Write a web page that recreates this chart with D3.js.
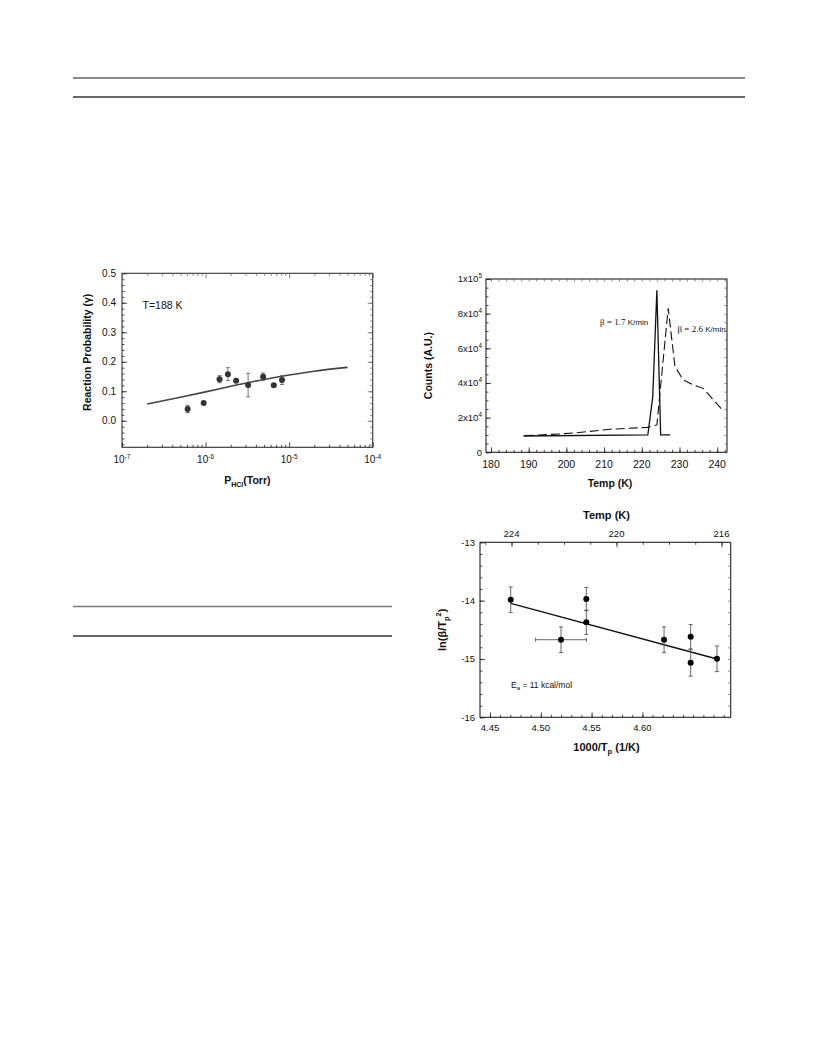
<!DOCTYPE html>
<html><head><meta charset="utf-8">
<script src="https://cdn.jsdelivr.net/npm/d3@7"></script>
<style>body{margin:0;background:#fff} svg{display:block} text{font-family:"Liberation Sans",Arial,sans-serif;fill:#111}</style>
</head><body><svg id="c" width="816" height="1056"></svg>
<script>
// ---------- Chart 1: reaction probability vs P_HCl ----------
const p1X   = [6.1e-7, 9.5e-7, 1.47e-6, 1.85e-6, 2.32e-6, 3.23e-6, 4.88e-6, 6.55e-6, 8.22e-6];
const p1Y   = [0.040, 0.060, 0.141, 0.158, 0.136, 0.121, 0.149, 0.120, 0.138];
const p1Err = [0.012, 0.004, 0.012, 0.022, 0.006, 0.040, 0.013, 0.004, 0.015];
const fitX  = [2e-7, 5e-7, 1e-6, 2e-6, 5e-6, 1e-5, 2e-5, 5e-5];
const fitY  = [0.057, 0.080, 0.098, 0.117, 0.140, 0.155, 0.168, 0.181];
const p1YTicks = [0.0, 0.1, 0.2, 0.3, 0.4, 0.5];
const p1YLabels = ["0.0","0.1","0.2","0.3","0.4","0.5"];
const p1XTicks = [1e-7, 1e-6, 1e-5, 1e-4];
const p1XExp = ["-7","-6","-5","-4"];

// ---------- Chart 2: TPD counts vs temperature ----------
const tSolid = [188.6, 221.6, 222.9, 224.0, 225.0, 227.5];
const cSolid = [9400, 10000, 32000, 93500, 10000, 10000];
const tDash  = [189.0, 198.3, 202.7, 211.6, 221.5, 224.0, 227.0, 228.8, 231.0, 233.7, 236.3, 239.0, 241.6];
const cDash  = [9600, 10600, 11300, 13300, 14400, 15800, 83100, 49400, 41700, 38800, 36900, 30200, 24000];
const p2XTicks = [180, 190, 200, 210, 220, 230, 240];
const p2YTicks = [0, 20000, 40000, 60000, 80000, 100000];
const p2YMant = ["0", "2x10", "4x10", "6x10", "8x10", "1x10"];
const p2YExp  = ["", "4", "4", "4", "4", "5"];

// ---------- Chart 3: ln(beta/Tp^2) vs 1000/Tp ----------
const p3X    = [4.4704, 4.5199, 4.5448, 4.5448, 4.6213, 4.6475, 4.6475, 4.6734];
const p3Y    = [-13.985, -14.67, -13.973, -14.372, -14.67, -14.62, -15.065, -14.997];
const p3YErr = [0.22, 0.22, 0.20, 0.21, 0.22, 0.21, 0.23, 0.22];
const p3XErr = [0, 0.025, 0, 0, 0, 0, 0, 0];
const lineX  = [4.4704, 4.6734];
const lineY  = [-14.046, -15.0];
const p3XTicks = [4.45, 4.50, 4.55, 4.60];
const p3XLabels = ["4.45","4.50","4.55","4.60"];
const p3YTicks = [-13, -14, -15, -16];
const p3TopTicks = [224, 220, 216];

const svg = d3.select("#c");
svg.append("rect").attr("width",816).attr("height",1056).attr("fill","#fff");

// page rules
svg.append("line").attr("x1",73).attr("x2",745).attr("y1",78).attr("y2",78).attr("stroke","#111").attr("stroke-width",1);
svg.append("line").attr("x1",73).attr("x2",745).attr("y1",97).attr("y2",97).attr("stroke","#333").attr("stroke-width",1.6);
svg.append("line").attr("x1",73).attr("x2",392).attr("y1",606.5).attr("y2",606.5).attr("stroke","#7a7a7a").attr("stroke-width",1.6);
svg.append("line").attr("x1",73).attr("x2",392).attr("y1",636).attr("y2",636).attr("stroke","#333").attr("stroke-width",1.6);

function ticks(g, scale, vals, orient, pos, len, col) {
  const ax = orient==="bottom" ? d3.axisBottom(scale) : orient==="top" ? d3.axisTop(scale)
           : orient==="left" ? d3.axisLeft(scale) : d3.axisRight(scale);
  ax.tickValues(vals).tickSize(-len).tickFormat("");
  const tr = (orient==="bottom"||orient==="top") ? `translate(0,${pos})` : `translate(${pos},0)`;
  const a = g.append("g").attr("transform", tr).call(ax);
  a.select(".domain").remove();
  a.selectAll("line").attr("stroke", col||"#222").attr("stroke-width", 0.8);
}
function box(g, b, col) {
  g.append("rect").attr("x",b.x0).attr("y",b.y0).attr("width",b.x1-b.x0).attr("height",b.y1-b.y0)
    .attr("fill","none").attr("stroke",col||"#111").attr("stroke-width",1.1);
}

// ===== Chart 1 =====
{
  const b = {x0:122, x1:372.7, y0:273.3, y1:447.3};
  const g = svg.append("g");
  const x = d3.scaleLog().domain([1e-7, 1e-4]).range([b.x0, b.x1]);
  const y = d3.scaleLinear().domain([-0.09, 0.5]).range([b.y1, b.y0]);
  box(g, b, "#333");
  const minorX = [];
  [1e-7,1e-6,1e-5].forEach(d => { for (let k=2;k<=9;k++) minorX.push(d*k); });
  const minorY = d3.range(-0.08, 0.5, 0.02).map(v=>+v.toFixed(2));
  ticks(g, x, p1XTicks, "bottom", b.y1, 5);
  ticks(g, x, minorX, "bottom", b.y1, 2.5);
  ticks(g, x, p1XTicks, "top", b.y0, 5, "#666");
  ticks(g, x, minorX, "top", b.y0, 2.5, "#666");
  ticks(g, y, p1YTicks, "left", b.x0, 5);
  ticks(g, y, minorY, "left", b.x0, 2.5);
  ticks(g, y, p1YTicks, "right", b.x1, 5, "#666");
  ticks(g, y, minorY, "right", b.x1, 2.5, "#666");

  p1YTicks.forEach((v,i) => g.append("text").attr("x", b.x0-6).attr("y", y(v)).attr("dy","0.35em")
    .attr("text-anchor","end").attr("font-size",10).text(p1YLabels[i]));
  p1XTicks.forEach((v,i) => {
    const t = g.append("text").attr("x", x(v)).attr("y", b.y1+16).attr("text-anchor","middle").attr("font-size",10);
    t.append("tspan").text("10");
    t.append("tspan").attr("font-size",6.5).attr("dy",-4).text(p1XExp[i]);
  });

  g.append("path").datum(fitX.map((d,i)=>[d, fitY[i]]))
    .attr("d", d3.line().x(d=>x(d[0])).y(d=>y(d[1])).curve(d3.curveMonotoneX))
    .attr("fill","none").attr("stroke","#444").attr("stroke-width",1.6);

  const pts = p1X.map((d,i)=>({x:d, y:p1Y[i], e:p1Err[i]}));
  const eb = g.append("g").attr("stroke","#666").attr("stroke-width",0.9);
  pts.forEach(p => {
    const cx = x(p.x);
    eb.append("line").attr("x1",cx).attr("x2",cx).attr("y1",y(p.y-p.e)).attr("y2",y(p.y+p.e));
    eb.append("line").attr("x1",cx-2).attr("x2",cx+2).attr("y1",y(p.y-p.e)).attr("y2",y(p.y-p.e));
    eb.append("line").attr("x1",cx-2).attr("x2",cx+2).attr("y1",y(p.y+p.e)).attr("y2",y(p.y+p.e));
  });
  g.selectAll("circle.p1").data(pts).join("circle").attr("cx",d=>x(d.x)).attr("cy",d=>y(d.y))
    .attr("r",3).attr("fill","#333");

  g.append("text").attr("x",142.5).attr("y",308.5).attr("font-size",10.5).text("T=188 K");
  g.append("text").attr("transform",`translate(${91},${(b.y0+b.y1)/2-8}) rotate(-90)`).attr("text-anchor","middle")
    .attr("font-size",10.5).attr("font-weight","bold").text("Reaction Probability (γ)");
  const xl = g.append("text").attr("x",(b.x0+b.x1)/2).attr("y",484).attr("text-anchor","middle")
    .attr("font-size",10.5).attr("font-weight","bold");
  xl.append("tspan").text("P");
  xl.append("tspan").attr("font-size",7).attr("dy",3).text("HCl");
  xl.append("tspan").attr("dy",-3).text("(Torr)");
}

// ===== Chart 2 =====
{
  const b = {x0:486, x1:727, y0:279, y1:452.3};
  const g = svg.append("g");
  const x = d3.scaleLinear().domain([178.67, 242.6]).range([b.x0, b.x1]);
  const y = d3.scaleLinear().domain([0, 100000]).range([b.y1, b.y0]);
  box(g, b, "#222");
  const minorX = d3.range(180, 242.6, 2);
  const minorY = d3.range(0, 100001, 5000);
  ticks(g, x, p2XTicks.filter(v=>v<=242), "bottom", b.y1, 5);
  ticks(g, x, minorX, "bottom", b.y1, 2.5);
  ticks(g, x, minorX, "top", b.y0, 2.5, "#666");
  ticks(g, y, p2YTicks, "left", b.x0, 5);
  ticks(g, y, minorY, "left", b.x0, 2.5);
  ticks(g, y, minorY, "right", b.x1, 2.5, "#666");

  p2YTicks.forEach((v,i) => {
    const t = g.append("text").attr("x", b.x0-4).attr("y", y(v)).attr("dy","0.35em")
      .attr("text-anchor","end").attr("font-size",9.5);
    t.append("tspan").text(p2YMant[i]);
    if (p2YExp[i]) t.append("tspan").attr("font-size",6.5).attr("dy",-4).text(p2YExp[i]);
  });
  p2XTicks.forEach(v => g.append("text").attr("x", x(v)).attr("y", b.y1+15.5).attr("text-anchor","middle")
    .attr("font-size",10.5).text(v));

  const line = d3.line().x(d=>x(d[0])).y(d=>y(d[1]));
  g.append("path").datum(tSolid.map((d,i)=>[d, cSolid[i]])).attr("d", line)
    .attr("fill","none").attr("stroke","#111").attr("stroke-width",1.3);
  g.append("path").datum(tDash.map((d,i)=>[d, cDash[i]])).attr("d", line)
    .attr("fill","none").attr("stroke","#111").attr("stroke-width",1.1).attr("stroke-dasharray","9,4");

  const l1 = g.append("text").attr("x",600).attr("y",324.5).attr("font-size",8);
  l1.append("tspan").attr("font-family","Liberation Serif, serif").attr("font-size",9).text("β = 1.7 ");
  l1.append("tspan").text("K/min");
  const l2 = g.append("text").attr("x",677.5).attr("y",332).attr("font-size",8);
  l2.append("tspan").attr("font-family","Liberation Serif, serif").attr("font-size",9).text("β = 2.6 ");
  l2.append("tspan").text("K/min");

  g.append("text").attr("transform",`translate(${432},${(b.y0+b.y1)/2}) rotate(-90)`).attr("text-anchor","middle")
    .attr("font-size",10.5).attr("font-weight","bold").text("Counts (A.U.)");
  g.append("text").attr("x",610).attr("y",486.5).attr("text-anchor","middle")
    .attr("font-size",10.5).attr("font-weight","bold").text("Temp (K)");
}

// ===== Chart 3 =====
{
  const b = {x0:480, x1:730.7, y0:542.3, y1:717.3};
  const g = svg.append("g");
  const x = d3.scaleLinear().domain([4.44016, 4.6869]).range([b.x0, b.x1]);
  const y = d3.scaleLinear().domain([-16, -13]).range([b.y1, b.y0]);
  const xt = d3.scaleLinear().domain([225.2, 215.65]).range([b.x0, b.x1]);
  box(g, b, "#222");
  const minorX = d3.range(4.45, 4.685, 0.01).map(v=>+v.toFixed(2));
  const minorY = d3.range(-16, -12.99, 0.2).map(v=>+v.toFixed(1));
  const minorT = d3.range(216, 225.1, 1);
  ticks(g, x, p3XTicks, "bottom", b.y1, 5);
  ticks(g, x, minorX, "bottom", b.y1, 2.5);
  ticks(g, xt, p3TopTicks, "top", b.y0, 5);
  ticks(g, xt, minorT, "top", b.y0, 2.5);
  ticks(g, y, p3YTicks, "left", b.x0, 5);
  ticks(g, y, minorY, "left", b.x0, 2.5);
  ticks(g, y, minorY, "right", b.x1, 2.5, "#666");

  p3YTicks.forEach(v => g.append("text").attr("x", b.x0-5).attr("y", y(v)).attr("dy","0.35em")
    .attr("text-anchor","end").attr("font-size",9.5).text(String(v)));
  p3XTicks.forEach((v,i) => g.append("text").attr("x", x(v)).attr("y", b.y1+13.5).attr("text-anchor","middle")
    .attr("font-size",9.5).text(p3XLabels[i]));
  p3TopTicks.forEach(v => g.append("text").attr("x", xt(v)).attr("y", b.y0-5).attr("text-anchor","middle")
    .attr("font-size",9.5).text(v));

  g.append("path").datum(lineX.map((d,i)=>[d, lineY[i]]))
    .attr("d", d3.line().x(d=>x(d[0])).y(d=>y(d[1])))
    .attr("fill","none").attr("stroke","#111").attr("stroke-width",1.4);

  const pts = p3X.map((d,i)=>({x:d, y:p3Y[i], ey:p3YErr[i], ex:p3XErr[i]}));
  const eb = g.append("g").attr("stroke","#555").attr("stroke-width",0.9);
  pts.forEach(p => {
    const cx = x(p.x), cy = y(p.y);
    eb.append("line").attr("x1",cx).attr("x2",cx).attr("y1",y(p.y-p.ey)).attr("y2",y(p.y+p.ey));
    eb.append("line").attr("x1",cx-2).attr("x2",cx+2).attr("y1",y(p.y-p.ey)).attr("y2",y(p.y-p.ey));
    eb.append("line").attr("x1",cx-2).attr("x2",cx+2).attr("y1",y(p.y+p.ey)).attr("y2",y(p.y+p.ey));
    if (p.ex > 0) {
      eb.append("line").attr("x1",x(p.x-p.ex)).attr("x2",x(p.x+p.ex)).attr("y1",cy).attr("y2",cy);
      eb.append("line").attr("x1",x(p.x-p.ex)).attr("x2",x(p.x-p.ex)).attr("y1",cy-2).attr("y2",cy+2);
      eb.append("line").attr("x1",x(p.x+p.ex)).attr("x2",x(p.x+p.ex)).attr("y1",cy-2).attr("y2",cy+2);
    }
  });
  g.selectAll("circle.p3").data(pts).join("circle").attr("cx",d=>x(d.x)).attr("cy",d=>y(d.y))
    .attr("r",3).attr("fill","#000");

  const ea = g.append("text").attr("x",511).attr("y",688).attr("font-size",8.5);
  ea.append("tspan").text("E");
  ea.append("tspan").attr("font-size",6).attr("dy",2).text("a");
  ea.append("tspan").attr("dy",-2).text(" = 11 kcal/mol");

  const yl = g.append("text").attr("transform",`translate(${446},${(b.y0+b.y1)/2}) rotate(-90)`)
    .attr("text-anchor","middle").attr("font-size",11).attr("font-weight","bold");
  yl.append("tspan").text("ln(β/T");
  yl.append("tspan").attr("font-size",7.5).attr("dy",3).text("p");
  yl.append("tspan").attr("font-size",7.5).attr("dy",-8).text("2");
  yl.append("tspan").attr("dy",5).text(")");

  const xl = g.append("text").attr("x",606.5).attr("y",750.5).attr("text-anchor","middle")
    .attr("font-size",11).attr("font-weight","bold");
  xl.append("tspan").text("1000/T");
  xl.append("tspan").attr("font-size",7.5).attr("dy",3).text("p");
  xl.append("tspan").attr("dy",-3).text("  (1/K)");
  g.append("text").attr("x",606.5).attr("y",519).attr("text-anchor","middle")
    .attr("font-size",11).attr("font-weight","bold").text("Temp (K)");
}
</script></body></html>
